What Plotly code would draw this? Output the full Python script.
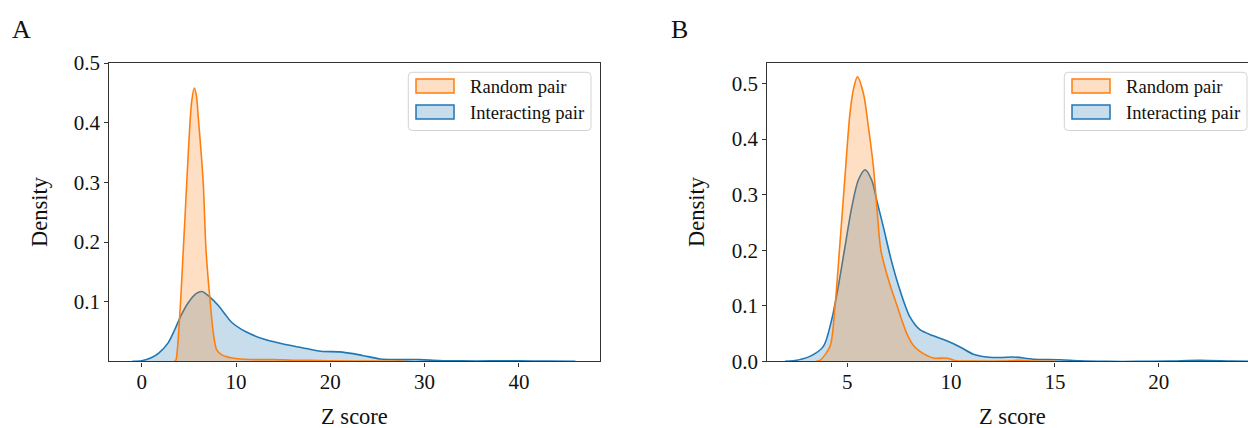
import plotly.graph_objects as go

# ---------------- data ----------------
# Panel A
a_random_z = [3.5, 3.64, 3.78, 4.13, 4.35, 4.59, 4.95, 5.3, 5.58, 5.8, 6.0, 6.3, 6.53, 6.82,
              7.24, 7.6, 7.95, 8.5, 9.0, 9.5, 10.5, 12.0, 14.0, 16.0, 18.0, 20.0, 24.0, 28.0]
a_random_d = [0.0, 0.003, 0.02, 0.103, 0.17, 0.242, 0.353, 0.436, 0.458, 0.445, 0.408, 0.35, 0.297, 0.186,
              0.103, 0.047, 0.0195, 0.011, 0.008, 0.006, 0.004, 0.003, 0.003, 0.002, 0.002, 0.001, 0.0005, 0.0]
a_inter_z = [-1.0, 0.0, 1.0, 1.8, 2.8, 3.5, 4.2, 5.0, 5.8, 6.4, 7.2, 8.1, 8.8, 9.5, 11.0, 13.0, 15.0,
             17.0, 19.0, 21.0, 22.4, 24.0, 25.3, 27.0, 29.5, 31.5, 34.0, 37.0, 40.0, 43.0, 46.0]
a_inter_d = [0.0, 0.001, 0.006, 0.014, 0.031, 0.053, 0.078, 0.100, 0.114, 0.117, 0.108, 0.094, 0.080, 0.066,
             0.050, 0.037, 0.029, 0.023, 0.017, 0.016, 0.013, 0.008, 0.004, 0.003, 0.003, 0.0015, 0.0008,
             0.0008, 0.0012, 0.0005, 0.0]

# Panel B
b_random_z = [3.5, 3.69, 4.17, 4.41, 4.65, 4.89, 5.13, 5.3, 5.49, 5.78, 6.02, 6.26, 6.45, 6.62, 7.0,
              7.4, 7.86, 8.2, 8.5, 9.15, 9.79, 10.27, 11.0, 12.5, 13.3, 14.0, 15.0]
b_random_d = [0.0, 0.002, 0.027, 0.099, 0.213, 0.332, 0.446, 0.49, 0.512, 0.482, 0.422, 0.35, 0.266, 0.2,
              0.145, 0.1, 0.051, 0.028, 0.018, 0.006, 0.006, 0.001, 0.0005, 0.0005, 0.002, 0.0005, 0.0]
b_inter_z = [2.0, 2.4, 3.2, 3.85, 4.25, 4.57, 4.89, 5.22, 5.53, 5.86, 6.18, 6.42, 6.74, 7.1, 7.54, 8.02,
             8.5, 9.15, 9.79, 10.43, 11.07, 11.72, 12.4, 13.0, 13.96, 15.25, 16.2, 17.5, 19.0, 20.5, 22.0,
             23.5, 24.5]
b_inter_d = [0.0, 0.001, 0.009, 0.027, 0.075, 0.135, 0.206, 0.278, 0.326, 0.345, 0.326, 0.29, 0.242, 0.185,
             0.128, 0.08, 0.057, 0.046, 0.037, 0.026, 0.013, 0.008, 0.007, 0.008, 0.004, 0.003, 0.001, 0.0,
             0.0, 0.0005, 0.002, 0.0005, 0.0]

series_names = ["Random pair", "Interacting pair"]
panel_labels = ["A", "B"]
x_title = "Z score"
y_title = "Density"
a_xticks = [0, 10, 20, 30, 40]
a_yticks = [0.1, 0.2, 0.3, 0.4, 0.5]
b_xticks = [5, 10, 15, 20]
b_yticks = [0.0, 0.1, 0.2, 0.3, 0.4, 0.5]

# ---------------- styling ----------------
W, H = 1248, 428
FONT = "Liberation Serif"
ORANGE = "#ff7f0e"
BLUE = "#1f77b4"
ORANGE_FILL = "rgba(255,127,14,0.25)"
BLUE_FILL = "rgba(31,119,180,0.25)"
AXC = "#333333"


def px(x):
    return x / W


def py(y):
    return 1 - y / H


fig = go.Figure()


def add_kde(z, d, color, fill, xa, ya, name):
    fig.add_trace(go.Scatter(
        x=z, y=d, mode="lines", name=name, showlegend=False,
        line=dict(color=color, width=1.6, shape="spline", smoothing=0.8),
        fill="tozeroy", fillcolor=fill, xaxis=xa, yaxis=ya, hoverinfo="x+y"))


# interacting first, random on top (as in the reference)
add_kde(a_inter_z, a_inter_d, BLUE, BLUE_FILL, "x", "y", series_names[1])
add_kde(a_random_z, a_random_d, ORANGE, ORANGE_FILL, "x", "y", series_names[0])
add_kde(b_inter_z, b_inter_d, BLUE, BLUE_FILL, "x2", "y2", series_names[1])
add_kde(b_random_z, b_random_d, ORANGE, ORANGE_FILL, "x2", "y2", series_names[0])

ydom = [py(361.4), py(63.0)]
a_left, a_right = 109.3, 600.0
b_left, b_right_virtual = 767.3, 1257.0

tickfont = dict(family=FONT, size=21, color="#111")
common_ax = dict(showgrid=False, zeroline=False, showline=True, linecolor=AXC, linewidth=1.4,
                 ticks="outside", ticklen=4, tickwidth=1, tickcolor=AXC, tickfont=tickfont,
                 automargin=False)

fig.update_layout(
    width=W, height=H, margin=dict(l=0, r=0, t=0, b=0),
    paper_bgcolor="white", plot_bgcolor="white", showlegend=False,
    xaxis=dict(domain=[px(a_left), px(a_right)], range=[-3.44, 48.6], tickvals=a_xticks,
               mirror=True, anchor="y", ticklabelstandoff=-3, **common_ax),
    yaxis=dict(domain=ydom, range=[0, 0.5], tickvals=a_yticks, mirror=True, anchor="x",
               tickformat=".1f", **common_ax),
    xaxis2=dict(domain=[px(b_left), 1.0], range=[1.15, 24.3], tickvals=b_xticks,
                mirror=True, anchor="y2", ticklabelstandoff=-3, **common_ax),
    yaxis2=dict(domain=ydom, range=[0, 0.537], tickvals=b_yticks, mirror=False, anchor="x2",
                tickformat=".1f", **common_ax),
)

# ---------------- legends (matplotlib-style boxes) ----------------
shapes = []
annotations = []


def rounded_rect(x0, y0, x1, y1, r):
    rx, ry = r / W, r / H
    X0, X1 = px(x0), px(x1)
    Y0, Y1 = py(y0), py(y1)  # Y0 top, Y1 bottom
    return (f"M{X0+rx},{Y0} L{X1-rx},{Y0} Q{X1},{Y0} {X1},{Y0-ry} "
            f"L{X1},{Y1+ry} Q{X1},{Y1} {X1-rx},{Y1} L{X0+rx},{Y1} Q{X0},{Y1} {X0},{Y1+ry} "
            f"L{X0},{Y0-ry} Q{X0},{Y0} {X0+rx},{Y0} Z")


def add_legend(offset):
    shapes.append(dict(type="path", xref="paper", yref="paper",
                       path=rounded_rect(408.3 + offset, 72.3, 591 + offset, 130.5, 4),
                       fillcolor="rgba(255,255,255,0.85)", line=dict(color="#d3d3d3", width=1)))
    entries = [(series_names[0], ORANGE, ORANGE_FILL, 79, 93, 86.7),
               (series_names[1], BLUE, BLUE_FILL, 105, 119, 112.8)]
    for name, col, fcol, y0, y1, ty in entries:
        shapes.append(dict(type="rect", xref="paper", yref="paper",
                           x0=px(416 + offset), x1=px(454 + offset), y0=py(y1), y1=py(y0),
                           fillcolor=fcol, line=dict(color=col, width=1.5)))
        annotations.append(dict(text=name, xref="paper", yref="paper", x=px(467.5 + offset), y=py(ty),
                                xanchor="left", yanchor="middle", showarrow=False,
                                font=dict(family=FONT, size=18.6, color="#111")))


add_legend(0)
add_legend(656)

# panel labels and axis titles
title_font = dict(family=FONT, size=22.5, color="#111")
for lab, cx in zip(panel_labels, [21, 679]):
    annotations.append(dict(text=lab, xref="paper", yref="paper", x=px(cx), y=py(29),
                            xanchor="center", yanchor="middle", showarrow=False,
                            font=dict(family=FONT, size=26, color="#111")))
for cx in [(a_left + a_right) / 2, (b_left + b_right_virtual) / 2]:
    annotations.append(dict(text=x_title, xref="paper", yref="paper", x=px(cx), y=py(416),
                            xanchor="center", yanchor="middle", showarrow=False, font=title_font))
for cx in [40, 697]:
    annotations.append(dict(text=y_title, xref="paper", yref="paper", x=px(cx), y=py(212),
                            xanchor="center", yanchor="middle", textangle=-90, showarrow=False,
                            font=title_font))

fig.update_layout(shapes=shapes, annotations=annotations)
fig.write_html("out.html")
